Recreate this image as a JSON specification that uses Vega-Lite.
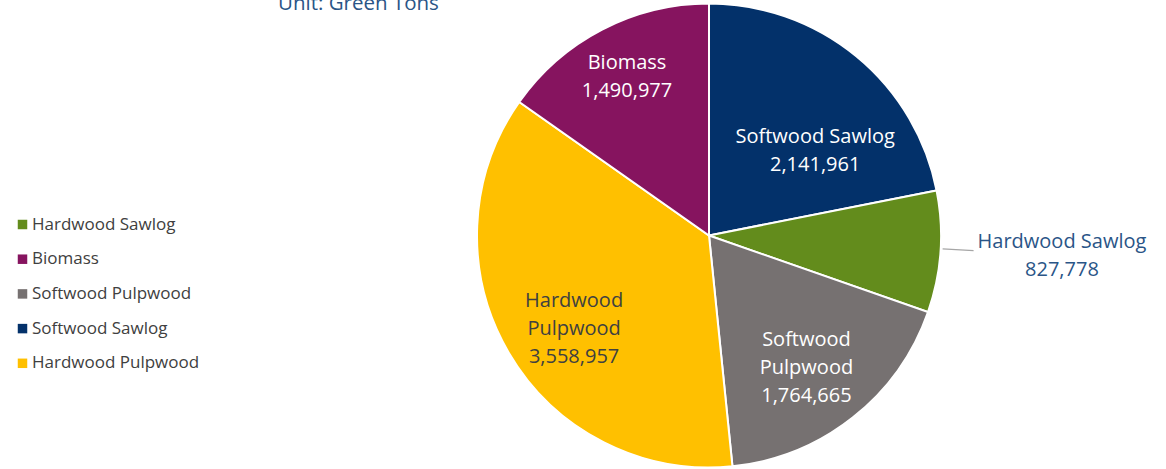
{
  "$schema": "https://vega.github.io/schema/vega-lite/v6.json",
  "width": 914,
  "height": 467,
  "autosize": {"type": "none"},
  "padding": {"left": 252, "top": 2, "right": 0, "bottom": 0},
  "background": "white",
  "title": {
    "text": "Unit: Green Tons",
    "anchor": "start",
    "frame": "group",
    "dx": 26,
    "offset": 0,
    "dy": 15,
    "baseline": "top",
    "font": "Open Sans",
    "fontSize": 20.5,
    "fontWeight": "normal",
    "color": "#2a5587"
  },
  "config": {"view": {"stroke": null}, "font": "Open Sans"},
  "data": {
    "values": [
      {"cat": "Softwood Sawlog", "value": 2141961, "o": 1, "label": "Softwood Sawlog\n2,141,961"},
      {"cat": "Hardwood Sawlog", "value": 827778, "o": 2, "label": "Hardwood Sawlog\n827,778"},
      {"cat": "Softwood Pulpwood", "value": 1764665, "o": 3, "label": "Softwood\nPulpwood\n1,764,665"},
      {"cat": "Hardwood Pulpwood", "value": 3558957, "o": 4, "label": "Hardwood\nPulpwood\n3,558,957"},
      {"cat": "Biomass", "value": 1490977, "o": 5, "label": "Biomass\n1,490,977"}
    ]
  },
  "encoding": {
    "theta": {"field": "value", "type": "quantitative", "stack": true},
    "order": {"field": "o", "type": "quantitative"}
  },
  "layer": [
    {
      "mark": {"type": "arc", "outerRadius": 232, "stroke": "white", "strokeWidth": 2},
      "encoding": {
        "color": {
          "field": "cat",
          "type": "nominal",
          "scale": {
            "domain": ["Hardwood Sawlog", "Biomass", "Softwood Pulpwood", "Softwood Sawlog", "Hardwood Pulpwood"],
            "range": ["#638c1c", "#86145f", "#767171", "#03316a", "#ffc000"]
          },
          "legend": {
            "title": null,
            "orient": "none",
            "legendX": -238,
            "legendY": 214,
            "symbolType": "square",
            "symbolSize": 90,
            "symbolStrokeWidth": 0,
            "labelFont": "Open Sans",
            "labelFontSize": 17,
            "labelColor": "#404040",
            "labelLimit": 300,
            "rowPadding": 16.7,
            "labelOffset": 1
          }
        }
      }
    },
    {
      "transform": [
        {"stack": "value", "groupby": [], "sort": [{"field": "o", "order": "ascending"}], "as": ["v0", "v1"]}
      ],
      "mark": {
        "type": "arc",
        "radius": {"expr": "datum.cat === 'Hardwood Sawlog' ? 234 : 0"},
        "radius2": {"expr": "datum.cat === 'Hardwood Sawlog' ? 265 : 0"},
        "thetaOffset": 0.2496,
        "theta2Offset": -0.2766,
        "color": "#a6a6a6"
      },
      "encoding": {
        "theta": {"field": "v0", "type": "quantitative", "stack": null},
        "theta2": {"field": "v1"},
        "opacity": {"condition": {"test": "datum.cat === 'Hardwood Sawlog'", "value": 1}, "value": 0}
      }
    },
    {
      "mark": {"type": "text", "radius": 145, "thetaOffset": 0.134, "lineBreak": "\n", "fontSize": 20, "lineHeight": 28, "align": "center", "baseline": "middle", "color": "white"},
      "encoding": {"text": {"condition": {"test": "datum.cat === 'Softwood Sawlog'", "field": "label"}, "value": ""}}
    },
    {
      "mark": {"type": "text", "radius": 191, "thetaOffset": 0.035, "lineBreak": "\n", "fontSize": 20, "lineHeight": 28, "align": "center", "baseline": "middle", "color": "white"},
      "encoding": {"text": {"condition": {"test": "datum.cat === 'Biomass'", "field": "label"}, "value": ""}}
    },
    {
      "mark": {"type": "text", "radius": 143, "thetaOffset": -0.082, "lineBreak": "\n", "fontSize": 20, "lineHeight": 28, "align": "center", "baseline": "middle", "color": "white"},
      "encoding": {"text": {"condition": {"test": "datum.cat === 'Softwood Pulpwood'", "field": "label"}, "value": ""}}
    },
    {
      "mark": {"type": "text", "radius": 150, "thetaOffset": 0.077, "lineBreak": "\n", "fontSize": 20, "lineHeight": 28, "align": "center", "baseline": "middle", "color": "#404040"},
      "encoding": {"text": {"condition": {"test": "datum.cat === 'Hardwood Pulpwood'", "field": "label"}, "value": ""}}
    },
    {
      "mark": {"type": "text", "radius": {"expr": "datum.cat === 'Hardwood Sawlog' ? 353 : 0"}, "thetaOffset": -0.052, "lineBreak": "\n", "fontSize": 20, "lineHeight": 28, "align": "center", "baseline": "middle", "color": "#2a5587"},
      "encoding": {"text": {"condition": {"test": "datum.cat === 'Hardwood Sawlog'", "field": "label"}, "value": ""}}
    }
  ]
}
